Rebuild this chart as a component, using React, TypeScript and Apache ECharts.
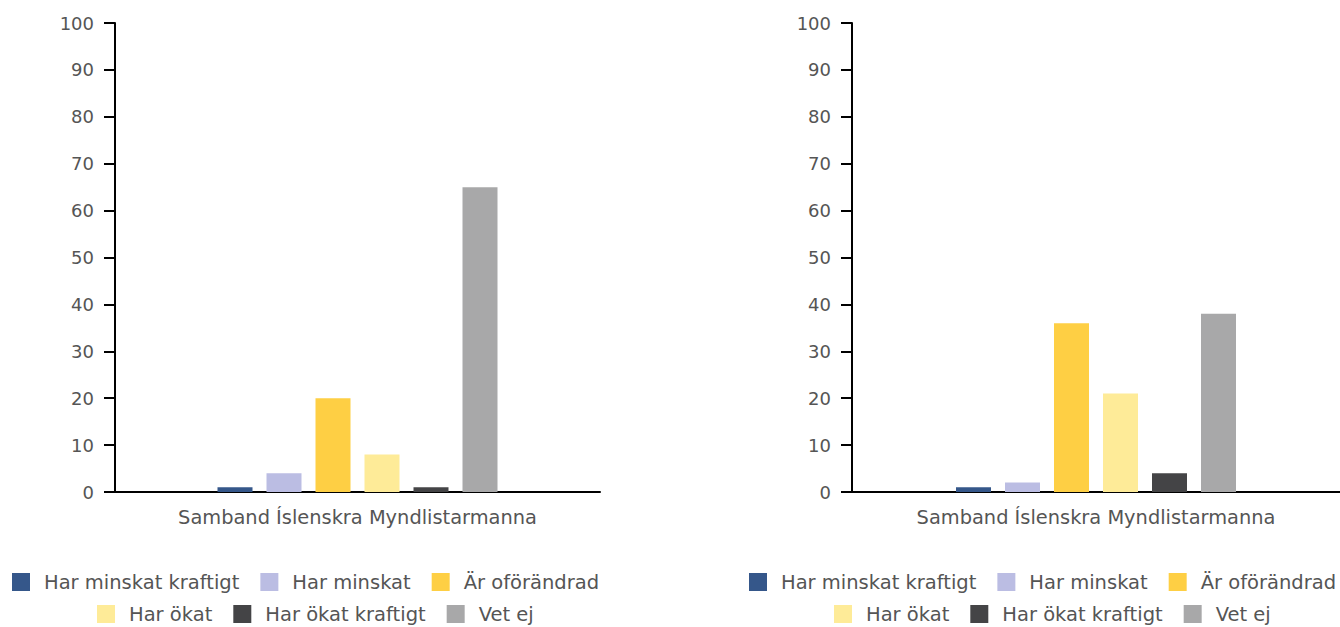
import React, { useEffect, useRef } from "react";
import * as echarts from "echarts";

const categories = ["Samband Íslenskra Myndlistarmanna"];
const seriesNames = [
  "Har minskat kraftigt",
  "Har minskat",
  "Är oförändrad",
  "Har ökat",
  "Har ökat kraftigt",
  "Vet ej",
];
const colors = ["#35578a", "#bbbde3", "#fecf44", "#feeb98", "#444446", "#a8a8a9"];
const leftValues = [1, 4, 20, 8, 1, 65];
const rightValues = [1, 2, 36, 21, 4, 38];
const yTicks = { min: 0, max: 100, interval: 10 };

const FONT = "'DejaVu Sans', sans-serif";
const TEXT = "#555555";

export default function App() {
  const ref = useRef<HTMLDivElement>(null);
  useEffect(() => {
    if (!ref.current) return;
    const chart = echarts.init(ref.current, null, { renderer: "svg" });
    const offsets = [0, 737];
    const grids = offsets.map((o, i) => ({
      left: 115 + o,
      top: 23,
      width: i === 0 ? 485 : 488,
      height: 469,
      containLabel: false,
    }));
    const xAxes = offsets.map((_, i) => ({
      type: "category",
      gridIndex: i,
      data: categories,
      axisTick: { show: false },
      axisLine: { lineStyle: { color: "#000", width: 2 } },
      axisLabel: { color: TEXT, fontSize: 19.4, fontFamily: FONT, margin: 16 },
    }));
    const yAxes = offsets.map((_, i) => ({
      type: "value",
      gridIndex: i,
      min: yTicks.min,
      max: yTicks.max,
      interval: yTicks.interval,
      splitLine: { show: false },
      axisLine: { show: true, lineStyle: { color: "#000", width: 2 } },
      axisTick: { show: true, length: 11, lineStyle: { color: "#000", width: 2 } },
      axisLabel: { color: TEXT, fontSize: 18, fontFamily: FONT, margin: 21 },
    }));
    const series: any[] = [];
    [leftValues, rightValues].forEach((vals, gi) => {
      seriesNames.forEach((name, si) => {
        series.push({
          type: "bar",
          name,
          xAxisIndex: gi,
          yAxisIndex: gi,
          data: [vals[si]],
          barWidth: 35,
          barGap: "40%",
          itemStyle: { color: colors[si] },
        });
      });
    });
    const legendBase = {
      orient: "horizontal",
      itemWidth: 18,
      itemHeight: 18,
      itemGap: 21,
      padding: 0,
      icon: "rect",
      textStyle: { color: TEXT, fontSize: 19.5, fontFamily: FONT, padding: [0, 0, 0, 9] },
    };
    const legends: any[] = [];
    offsets.forEach((o) => {
      legends.push({ ...legendBase, left: 12 + o, top: 572, data: seriesNames.slice(0, 3) });
      legends.push({ ...legendBase, left: 97 + o, top: 604, data: seriesNames.slice(3) });
    });
    chart.setOption({
      animation: false,
      color: colors,
      textStyle: { fontFamily: FONT },
      grid: grids,
      xAxis: xAxes,
      yAxis: yAxes,
      legend: legends,
      series,
    });
    return () => chart.dispose();
  }, []);
  return (
    <div
      ref={ref}
      style={{ position: "fixed", left: 0, top: 0, width: 1340, height: 627, background: "#fff" }}
    />
  );
}
